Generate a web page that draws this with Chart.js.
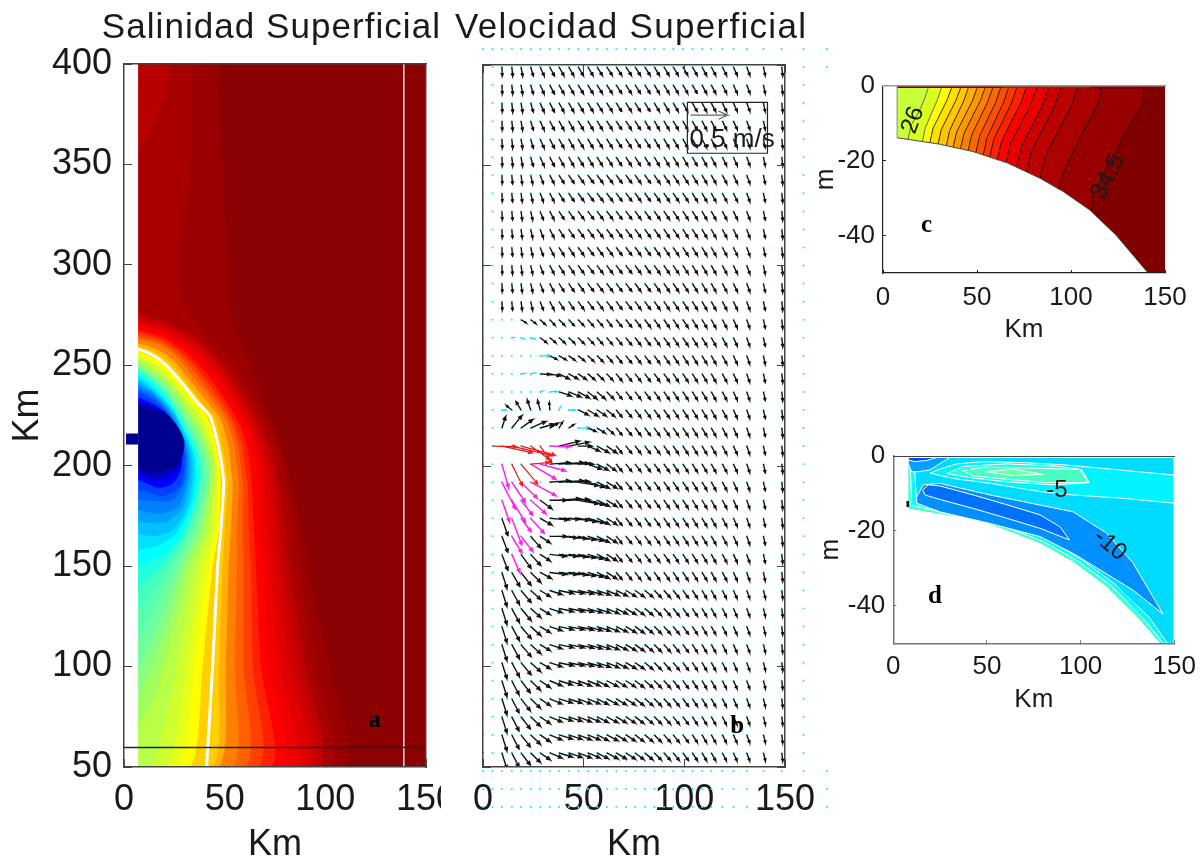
<!DOCTYPE html>
<html><head><meta charset="utf-8">
<script src="https://cdn.jsdelivr.net/npm/chart.js@4"></script>
<style>
html,body{margin:0;background:#fff;width:1203px;height:858px;overflow:hidden}
canvas{position:absolute;display:block;filter:blur(0.35px)}
</style></head><body>
<canvas id="a" style="left:0;top:0" width="441" height="858"></canvas>
<canvas id="b" style="left:455px;top:0" width="385" height="858"></canvas>
<canvas id="c" style="left:810px;top:60px" width="393" height="290"></canvas>
<canvas id="d" style="left:815px;top:430px" width="388" height="290"></canvas>
<script>
const n = null;
/* ---------- panel a: surface salinity, contour outlines in (km, km) ---------- */
const salColors = ['#8b0000','#9a0000','#a80000','#b80000','#c00000','#d00000','#e00000','#f00000','#ff0000','#ff2000','#ff4000','#ff6000','#ff8000','#ffb000','#ffd000','#ffff00','#e8ff18','#d0ff30','#b8ff48','#a0ff60','#88ff80','#70ffa0','#58ffb0','#40ffc0','#20ffe0','#00ffff','#00e0ff','#00c0ff','#00a0ff','#0080ff','#0060ff','#0040ff','#0000ff','#0000c8','#000090'];
const salX = [
 [7,150,150,7],
 [46,49,51,54,63,69,76,82,88,91,102,109],
 [34,33,27,30,40,52,60,67,73,78,81,84,87,95,102],
 [7,15,22,7],
 [7,22,37,48,56,63,69,74,77,80,82,90,97],
 [7,22,35.5,46,54,61,67,71.5,74.5,77,79,86,93.5],
 [7,22,34,44,52,59,65,69,72,74,76,82,90],
 [7,21,32,41.5,49.5,56.5,62.5,66.5,69,70.5,72.5,77,84.5],
 [7,20,30,39,47,54,60,64,66,67,69,72,79],
 [7,19,28,36.5,44.5,52,57.5,61.5,63,64,65.5,68,73],
 [7,18,26,34,42,50,55,59,60,61.5,62,63,64,67],
 [7,17,24.5,31.5,39.5,47.5,53,57,58,59,59,59.5,59.5,60.5],
 [7,16,23,29,37,45,51,55,56,57,56,56,55,54],
 [7,14,20,26,34,42,48,52,53,54,53,52,50.5,47],
 [7,12,18,23,31,39,45,49,50.5,51.5,50,49,47,44],
 [7,16,21,29,37,42,46,47.5,48,47,44,39,33],
 [7,15.5,20.5,28.5,36,41,45,46.7,47,45.5,41.5,35,27.5],
 [7,15,20,28,35,40,44,46,46,44,39,31,22],
 [7,15,20,27.5,34,39,43,45,44.5,42,36,27.5,22,14],
 [7,15,20,27,33,38,42,44,43,40,33,24,15,7],
 [7,14.5,20,26.5,32,37,41,43,42,38,30.5,21.5,14,7],
 [7,14,20,26,31,36,40,42,41,36,28,19,7],
 [7,14,20,25.5,30.5,35,38.5,40.5,39,34,25,16.5,7],
 [7,14,20,25,30,34,37,39,37,32,22,14,7],
 [7,14,20,25,29.5,33.5,36.5,38,36,30,21,13,7],
 [7,14,20,25,29,33,36,37,35,28,20,12,7],
 [7,14,20,25,29,32.5,35,35.5,33,26,18,7],
 [7,14,20,25,29,32,34,34,31,24,16,7],
 [7,14,20,25,28.5,31.5,33,32.5,29,21,7],
 [7,14,20,25,28,31,32,31,27,18,7],
 [7,14,20,25,28,30.5,31,29.5,23.5,7],
 [7,14,20,25,28,30,30,28,20,7],
 [7,14,20,25,28,29,28,24,17,7],
 [7,14.5,21,26,29,29,26.5,21,14.5,7],
 [7,15,22,27,30,29,25,19,12,7]
];
const salY = [
 [400,400,50,50],
 [400,350,300,270,250,233,215,195,170,150,100,50],
 [400,350,300,280,266,254,241,230,218,205,190,170,150,100,50],
 [357,370,400,400],
 [276,271,263,252,241,230,218,205,190,170,150,100,50],
 [274,269.5,262,252,241,230,218,206,192,172,150,100,50],
 [272,268,261,252,241,230,218,207,195,175,150,100,50],
 [270.5,266.5,260,251.5,241,230,219,207,195,175,150,100,50],
 [269,265,259,251,241,230,220,207,195,175,150,100,50],
 [267.5,264,258.5,251,241,230,220.5,208,197,180,150,100,50],
 [266,263,258,251,241,230,221,209,200,190,167,150,100,50],
 [264.5,262,257.5,251,241,230.5,221.5,209,200,190.5,167,150,100,50],
 [263,261,257,251,241,231,222,209,200,191,167,150,100,50],
 [261,259,256,251,241,231,223,209,200,191,167,150,100,50],
 [259.5,258,255,251,241.5,231,224,209,200,191,167,150,100,50],
 [257,253,249,240,230,223,209,200,191,167,150,100,50],
 [256,251.5,247.5,238.5,229,221.5,208.5,199.5,190.5,167,150,100,50],
 [255,250,246,237,228,220,208,199,190,167,150,100,50],
 [253.5,248.5,244.5,236,227,219,208,199,189,167,150,107,80,50],
 [252,247,243,235,226,218,208,199,188,167,150,115,85,70],
 [251,246,241.5,233.5,225,217,207.5,198,187,167,150,120,100,84],
 [250,245,240,232,224,216,207,197,186,167,150,125,98],
 [249,244,238.5,231,223,215,206.5,197,185,167,150,131,113],
 [248,243,237,230,222,214,206,197,184,167,150,138,128],
 [247,242,236,229,221,213.5,205.5,196,183,166,153,145,139],
 [246,241,235,228,220,213,205,195,182,165,156,152,150],
 [244.5,239.5,233.5,227,219,212,204,194,180,166.5,160.5,158],
 [243,238,232,226,218,211,203,193,178,168,165,166],
 [241.5,237,231,224.5,217,210,202,192,179,172,172],
 [240,236,230,223,216,209,201,191,180,176,178],
 [238.5,234.5,229,222,215,208,200,190.5,182.5,183],
 [237,233,228,221,214,207,199,190,185,188],
 [234,231,227,220,213,206,197,191,189,193],
 [232,229.5,226,219.5,212.5,205.5,198,194,192.5,196],
 [230,228,225,219,212,205,199,197,196,199]
];
const frontX = [7,10,16,21,29,37,43,47,48.6,49.5,48,46.5,44,41];
const frontY = [258,257,254,250,241,231,224,209,200,191,167,150,100,50];
const shoreMaskX = [0.4,7,7,0.4], shoreMaskY = [400,400,50,50];
const sectionLineX = [0,150], sectionLineY = [59.7,59.7];
const transectX = [139,139], transectY = [50,400];
const riverX = [1,7,7,1], riverY = [216,216,210.6,210.6];

/* ---------- panel b: surface velocity grid (km) and vectors (km per arrow) ---------- */
const dotCols = [0,4.7,9.4,14.3,18.9,23.7,28.4,33.2,37.8,42.6,47.3,52.1,56.7,61.5,66.2,71,75.6,80.4,85.1,89.9,94.5,99.3,104,108.8,113.4,118.9,124.4,131,139.3,148.4,159.2];
const dotColsFar = [170.8];
const dotRows = [408,399,390,381,372,363,354,345,336,327,318,309,300,291,282,273,264,255,246,237,228,219,210,201,192,183,174,165,156,147,138,129,120,111,102,93,84,75,66,57,48,39,30];
const farDotRows = [408,399,48,39,30];
const arrowCols = [9.4,14.3,18.9,23.7,28.4,33.2,37.8,42.6,47.3,52.1,56.7,61.5,66.2,71,75.6,80.4,85.1,89.9,94.5,99.3,104,108.8,113.4,118.9,124.4,131,139.3,148.4];
const uUpA = [0.2,0.5,0.8,1.3,2,2.3,2.4,2.5,2.6,2.6,2.6,2.7,2.7,2.7,2.6,2.6,2.5,2.5,2.5,2.4,2.4,2.3,2.2,2.1,1.9,1.6,0.9,0.5];
const vUpA = [-4.5,-4.6,-4.6,-4.5,-4.5,-4.5,-4.4,-4.4,-4.3,-4.3,-4.2,-4.2,-4.2,-4.2,-4.2,-4.2,-4.2,-4.2,-4.2,-4.2,-4.2,-4.3,-4.2,-4.2,-4.2,-4.2,-4.3,-4.5];
const uUpB = [0.2,0.4,0.6,1,1.6,2.1,2.5,2.7,2.8,2.9,2.9,2.9,2.9,2.9,2.8,2.8,2.8,2.7,2.7,2.6,2.5,2.4,2.3,2.2,2,1.6,0.9,0.5];
const vUpB = [-4.2,-4.3,-4.3,-4.3,-4.2,-4.1,-4,-4,-3.9,-3.9,-3.9,-3.9,-3.9,-3.9,-3.9,-3.9,-4,-4,-4,-4,-4,-4.1,-4.1,-4.1,-4.1,-4.2,-4.3,-4.5];
const farU = [2.9,2.9,2.8,2.8,2.7,2.7,2.6,2.6,2.5,2.4,2.3,2.2,1.9,1.5,0.9,0.5];
const farV = [-3.6,-3.7,-3.7,-3.8,-3.8,-3.9,-3.9,-4,-4,-4,-4.1,-4.1,-4.1,-4.2,-4.3,-4.5];
const uLowA = [2.5,3.8,5,5,5,6,7,7.5,7.5,7,6.5,6,5.5,5,4.5,4,3.5,3.2,3,2.8,2.5,2.3,2.2,2,1.8,1.5,1,0.5];
const vLowA = [-8,-7,-6,-4.5,-3,-2,-1.5,-1.5,-1.7,-2,-2.2,-2.5,-2.7,-3,-3.2,-3.3,-3.5,-3.6,-3.7,-3.8,-3.8,-3.9,-3.9,-3.9,-4,-4,-4,-4.2];
const uLowB = [2.5,3.6,4.6,4.8,5,6,6.5,6.5,6.5,6,5.5,5.5,5,4.7,4.3,4,3.5,3.2,3,2.8,2.5,2.3,2.2,2,1.8,1.5,1,0.5];
const vLowB = [-8,-7,-6,-4.7,-3.4,-2.5,-2,-2.2,-2.5,-2.5,-2.8,-2.9,-3,-3.1,-3.3,-3.4,-3.5,-3.6,-3.7,-3.8,-3.8,-3.9,-3.9,-3.9,-4,-4,-4,-4.2];
const rowU = [uUpA,uUpA,uUpA,uUpA,uUpA,uUpA,uUpB,uUpB,uUpB,uUpB,uUpB,uUpB,uUpB,uUpB,
 [n,n,2.6,2.6,2.6,2.6,2.8,2.8,2.8,2.8,2.8,2.6,...farU],
 [n,n,n,n,3.3,3,3,3,3,2.9,2.8,2.8,...farU],
 [n,n,n,n,n,3.5,3.5,3.2,3.2,3,3,2.8,...farU],
 [n,n,n,n,5,5,5,4.5,4,3.5,3.2,3,...farU],
 [n,n,n,n,n,n,6,6,5.5,4.5,4,3.5,...farU],
 [n,-2.7,-2.5,-1.7,-1.3,-0.3,n,n,5,5,4.5,4,...farU],
 [1.8,5,5.8,7.5,6.7,4.2,1.7,2.5,n,4,4,3.5,...farU],
 [n,n,n,n,n,n,10,10,6.7,5.8,5.8,5,...farU],
 [n,n,n,n,n,10,12,10,7.5,6.7,5.5,4.5,...farU],
 [n,n,n,n,n,10,12,10,10,8,6,5,...farU],
 [n,n,n,n,5.8,8.3,10.3,10,10,8,6,5,...farU],
 [3,n,n,n,5.8,9.2,10,10,9,8,6,5,...farU],
 [3,n,n,5,5,8.3,9,9,8.5,7.5,6,5,...farU],
 [3,n,5,5,5,8,9,9,8.5,7.5,6,5,...farU],
 [2.5,4,5,5,5.5,8,9,9,8.5,7.5,6,5,...farU],
 uLowA,uLowA,uLowA,uLowA,uLowA,uLowB,uLowB,uLowB,uLowB,uLowB];
const rowV = [vUpA,vUpA,vUpA,vUpA,vUpA,vUpA,vUpB,vUpB,vUpB,vUpB,vUpB,vUpB,vUpB,vUpB,
 [n,n,-1.6,-2,-2.4,-2.8,-2.8,-3,-3,-3.2,-3.2,-3.4,...farV],
 [n,n,n,n,-2.5,-2.5,-2.7,-2.8,-3,-3.1,-3.2,-3.3,...farV],
 [n,n,n,n,n,-1.7,-2,-2.3,-2.5,-2.8,-3,-3.2,...farV],
 [n,n,n,n,-0.3,-1,-2.5,-2.5,-2.8,-3,-3,-3.2,...farV],
 [n,n,n,n,n,n,-2,-2.5,-3,-3.5,-3.5,-3.5,...farV],
 [n,2.2,4.2,5,4.7,3.7,n,n,-2.5,-3,-3,-3.3,...farV],
 [5.7,6.2,4.2,3.3,2,2.5,3,1.7,n,-1.7,-2.5,-3,...farV],
 [n,n,n,n,n,n,2.5,2,0,-2.5,-3.3,-3.5,...farV],
 [n,n,n,n,n,0.8,0.8,0.5,0,-2.5,-3,-3.3,...farV],
 [n,n,n,n,n,0.8,0.8,0.5,-1.7,-2.5,-3,-3,...farV],
 [n,n,n,n,-4.2,0,0.8,0.5,-1.7,-2.3,-3,-3.2,...farV],
 [-8.7,n,n,n,-3.3,-0.8,-0.5,-1,-1.7,-2.3,-3,-3.2,...farV],
 [-8,n,n,-5.8,-3.3,0,-0.8,-1.2,-1.8,-2.3,-3,-3.2,...farV],
 [-8,n,-7,-5.5,-3.3,-1,-1,-1.3,-1.8,-2.3,-3,-3.2,...farV],
 [-8,-7,-6.5,-5,-3,-1,-1,-1.3,-1.8,-2.3,-3,-3.2,...farV],
 vLowA,vLowA,vLowA,vLowA,vLowA,vLowB,vLowB,vLowB,vLowB,vLowB];
const rowY = [399,390,381,372,363,354,345,336,327,318,309,300,291,282,273,264,255,246,237,228,219,210,201,192,183,174,165,156,147,138,129,120,111,102,93,84,75,66,57];
const redX = [4.7,9.4,14.3,18.9,23.7,28.4,23.7,14.3,18.9];
const redY = [210,210,210,210,210,210,201,201,201];
const redU = [12,15,20,17,9.5,5.8,9.2,5.3,8.3];
const redV = [-0.3,-3.3,-4.7,-4.5,-6.7,-8.3,0.8,-10.8,-10];
const magX = [33.2,23.7,28.4,9.4,9.4,14.3,18.9,23.7,9.4,14.3,18.9,23.7,14.3,18.9,23.7,14.3,18.9,14.3];
const magY = [210,201,201,201,192,192,192,192,183,183,183,183,174,174,174,165,165,156];
const magU = [10,12.5,12.5,3.3,6.7,6.7,8,12.5,3.8,6.7,5.8,7.5,5,5,6.7,5,5.8,4];
const magV = [-0.3,-7.5,-3.3,-11.7,-13.3,-10,-8,-6.7,-10.8,-10.8,-7.5,-6.7,-13.3,-6.7,-7.5,-8.3,-7.5,-9];
const cyanX = [14.3,18.9,23.7,28.4,18.9,23.7,28.4,33.2,9.4,37.8,42.6,47.3];
const cyanY = [264,264,264,255,246,246,237,237,228,228,228,219];
const cyanU = [1,1.5,2,5,2,2,1.2,3.5,2,0.6,3.3,5.8];
const cyanV = [0.2,-0.5,-0.5,0,0.3,0.5,0.5,0.3,0,1.5,0,0];
const keyBoxX = [101.5,141.3,141.3,101.5,101.5], keyBoxY = [381.4,381.4,356,356,381.4];
const keyArrowX = [103], keyArrowY = [375], keyArrowU = [18.5], keyArrowV = [0];

/* ---------- panel c: salinity section ---------- */
const secColors = ['#980000','#aa0000','#bb0000','#cc0000','#e80000','#ff0000','#ff2000','#ff3800','#ff5000','#ff6800','#ff8000','#ff9800','#ffb000','#ffc800','#ffe000','#ffff00','#d8ff20','#c8ff38'];
const secX = [
 [138.5,138.5,128.8,117.2,111,111],
 [116,114.6,104.8,95,93.2],
 [103.4,99.4,86.5,83.5],
 [94.5,90.9,79.1,76.4],
 [88,84.6,73.6,71],
 [81.7,78.4,67.8,65.4],
 [76,73,63.1,60.8],
 [71,68.2,58.9,56.8],
 [66.6,64,55.3,53.3],
 [62.5,59.9,51.4,49.4],
 [58.3,55.7,47.3,45.3],
 [54.2,51.6,43.2,41.2],
 [50,47.5,39.2,37.3],
 [45.3,43,35.4,33.7],
 [41.2,38.8,31.1,29.3],
 [36.4,34.1,26.6,24.9],
 [31,29,22.5,21],
 [24,22.2,18.7,15,13.3]
];
const secY = [
 [-0.7,-4.7,-12.7,-23.4,-30,-33.7],
 [-0.7,-4.7,-13.6,-24.3,-27.7],
 [-0.7,-6.2,-18.5,-24.7],
 [-0.7,-5.8,-17.3,-23],
 [-0.7,-5.4,-16.3,-21.7],
 [-0.7,-5.1,-15.4,-20.5],
 [-0.7,-4.9,-14.8,-19.7],
 [-0.7,-4.8,-14.3,-19],
 [-0.7,-4.6,-13.9,-18.5],
 [-0.7,-4.5,-13.4,-17.8],
 [-0.7,-4.3,-13,-17.3],
 [-0.7,-4.2,-12.6,-16.8],
 [-0.7,-4.1,-12.3,-16.4],
 [-0.7,-4,-12,-16],
 [-0.7,-3.9,-11.6,-15.5],
 [-0.7,-3.8,-11.4,-15.2],
 [-0.7,-3.7,-11.2,-14.9],
 [-0.7,-3.4,-7.4,-10.5,-14.3]
];
const secBaseColor = '#800000';
const shelfX = [7.5,30,48,66,83.5,96,110,124,141];
const shelfY = [-13.9,-15.6,-17.6,-20.6,-24.7,-28.3,-33.2,-39.9,-50];
const stripX = [63,110], stripY = [-0.35,-0.35];
const stripX2 = [110,138], stripY2 = [-0.6,-0.6];

/* ---------- panel d: velocity section ---------- */
const velColors = ['#48ffd0','#00ffff','#00dcff','#00f4ff','#28ffd8','#48ffc0','#70ffa8','#0090ff','#0070ff','#00a0ff','#0050f0'];
const velX = [
 [8,150,150,142.3,131.7,113.9,96,78.3,60.5,42.7,24.9,8],
 [8.9,150,150,144.1,134.3,116,98.2,80.4,61.4,42.7,24.9,9.8,8.9],
 [11,150,150,146.3,137,117.8,100.5,82.2,63.2,44.5,24.9,12.5,11],
 [19.6,24.9,33.8,48,71.2,92.5,150,150,122.8,96,78.3,51.6,32,19.6],
 [28.5,37.4,60.5,87.2,100.5,104.6,85.4,60.5,42.7,28.5],
 [37,48,78.3,99.6,104,81.9,60.5,42.7,37],
 [48.9,64.1,80,64.1,48.9],
 [12.5,16,24.9,51.6,78.3,96,113.9,128,144,128,112,96,78.3,51.6,24.9,12.5,12.5],
 [15.7,18.7,24.9,42.7,60.5,78.3,89,94,78.3,60.5,42.7,24.9,16.9,15.7],
 [8,30.2,24.9,19.6,13.3,9.8,8,8],
 [8,23.1,17.8,11.6,8.3,8]
];
const velY = [
 [0,0,-50,-50,-43.8,-34.9,-28.2,-23.3,-19.8,-16.6,-15.5,-14],
 [-0.4,-0.4,-50,-50,-43.8,-34.4,-27.9,-22.9,-19.2,-16,-14.9,-13.1,-0.4],
 [-0.4,-0.4,-50,-50,-43.3,-34,-27.6,-22.2,-18.4,-15.3,-14.1,-12.6,-0.4],
 [-4.6,-3.5,-2.1,-1.5,-1.8,-2.4,-5.1,-12.6,-11.3,-10.4,-9.5,-7.3,-6,-4.6],
 [-4.7,-2.8,-2.1,-2.7,-3.6,-7.1,-7.7,-6.9,-5.9,-4.7],
 [-3.9,-3,-3.3,-3.6,-7.1,-7.1,-6.2,-5.3,-3.9],
 [-4.2,-3.5,-4.9,-5.2,-4.2],
 [-10.9,-7.7,-7.3,-10.4,-13.1,-14.9,-20.6,-28.6,-42.2,-35.8,-30.9,-26,-21.5,-18,-14.9,-12.6,-10.9],
 [-9.1,-7.7,-8,-10.4,-13,-15.7,-18.9,-22.4,-19.3,-16.6,-14,-11.6,-10.4,-9.1],
 [-0.4,-0.4,-2,-3.7,-4.2,-4.2,-2,-0.4],
 [-0.4,-0.4,-1.2,-1.5,-1.1,-0.4]
];
const glitchX = [7.7,7.7], glitchY = [-12,-13.6];

/* ---------- tick values and labels ---------- */
const kmTicks = [0,50,100,150];
const alongTicks = [50,100,150,200,250,300,350,400];
const depthTicks = [0,-20,-40];
const kmTitle = 'Km', depthTitle = 'm';
const titleA = 'Salinidad Superficial', titleB = 'Velocidad Superficial', keyLabel = '0.5 m/s';

/* ---------- helpers ---------- */
const FAM = '"Liberation Sans", Arial, sans-serif';
const INK = '#1a1a1a';
const SHARP = 1e-6;
const zip = (xs, ys) => xs.map((x, i) => ({x, y: ys[i]}));
function scale(o) {
  return {
    type: 'linear', position: o.pos, min: o.min, max: o.max,
    afterBuildTicks: s => { s.ticks = o.ticks.map(v => ({value: v})); },
    afterFit: s => {
      if (s.isHorizontal()) s.height = o.size; else s.width = o.size;
      s.paddingLeft = s.paddingRight = s.paddingTop = s.paddingBottom = 0;
    },
    ticks: {display: !!o.labels, autoSkip: false, maxRotation: 0, minRotation: 0, color: INK, padding: o.pad || 0,
      font: {family: FAM, size: o.fs || 12}, callback: v => String(v)},
    grid: {drawOnChartArea: false, drawTicks: true, tickLength: -(o.tick || 0), tickColor: o.color || '#444', tickWidth: 1, z: o.gz === undefined ? -1 : o.gz},
    border: {display: o.border !== false, color: o.color || '#444', width: o.bw || 1.5, z: 1},
    title: {display: !!o.title, text: o.title, color: INK, font: {family: FAM, size: o.tfs || 12, lineHeight: 1.2}, padding: o.tpad || 0}
  };
}
function poly(xs, ys, color, extra) {
  return Object.assign({data: zip(xs, ys), showLine: true, fill: 'shape', backgroundColor: color, borderColor: color,
    borderWidth: 0, pointRadius: 0, tension: 0}, extra || {});
}
function line(xs, ys, color, w, extra) {
  return Object.assign({data: zip(xs, ys), showLine: true, fill: false, borderColor: color, backgroundColor: color,
    borderWidth: w, pointRadius: 0, tension: SHARP}, extra || {});
}
function arrows(xs, ys, us, vs, color, w, head) {
  const pts = [], maxH = head || 2.2;
  xs.forEach((x, i) => {
    const u = us[i], v = vs[i], y = ys[i];
    if (u === null || v === null) return;
    const L = Math.hypot(u, v), h = Math.min(0.36 * L, maxH), a = Math.atan2(v, u), tx = x + u, ty = y + v;
    pts.push({x, y}, {x: tx, y: ty},
      {x: tx - h * Math.cos(a - 0.42), y: ty - h * Math.sin(a - 0.42)}, {x: tx, y: ty},
      {x: tx - h * Math.cos(a + 0.42), y: ty - h * Math.sin(a + 0.42)}, {x: tx, y: null});
  });
  return {data: pts, showLine: true, fill: false, spanGaps: false, borderColor: color, backgroundColor: color,
    borderWidth: w, pointRadius: 0, tension: SHARP};
}
function stack(list) { list.forEach((d, i) => { d.order = list.length - i; }); return list; }
function notes(items) {
  return {id: 'notes', afterDatasetsDraw(chart) {
    const c = chart.ctx;
    items.forEach(t => {
      c.save();
      c.translate(chart.scales.x.getPixelForValue(t.x), chart.scales.y.getPixelForValue(t.y));
      c.rotate((t.rot || 0) * Math.PI / 180);
      c.font = t.font; c.fillStyle = t.color || INK; c.textAlign = 'center'; c.textBaseline = 'middle';
      c.fillText(t.text, 0, 0);
      c.restore();
    });
  }};
}
function make(id, datasets, scales, plugins, extra) {
  const chart = new Chart(document.getElementById(id), {
    type: 'scatter',
    data: {datasets: stack(datasets)},
    plugins: plugins || [],
    options: {responsive: false, animation: false, events: [],
      layout: {padding: extra.padding},
      plugins: {legend: {display: false}, tooltip: {enabled: false},
        title: extra.title || {display: false}},
      scales}
  });
  if (extra.titleSpacing) {
    const block = chart.titleBlock, draw = block.draw.bind(block);
    block.draw = () => {
      chart.ctx.letterSpacing = extra.titleSpacing;
      draw();
      chart.ctx.letterSpacing = '0px';
    };
    chart.draw();
  }
  return chart;
}
const SERIF = 'bold 25px "Liberation Serif", "Times New Roman", serif';

/* ---------- panel a ---------- */
const aSets = salX.map((xs, i) => {
  const ys = salY[i], last = ys[ys.length - 1], first = ys[0];
  return poly([...xs, 7, 7], [...ys, last, first], salColors[i], {tension: i === 0 ? 0 : 0.25});
});
aSets.push(poly(shoreMaskX, shoreMaskY, '#ffffff'));
aSets.push(poly(riverX, riverY, '#00008b'));
aSets.push(line(frontX, frontY, '#ffffff', 3, {tension: 0.25}));
aSets.push(line(transectX, transectY, 'rgba(255,255,255,0.85)', 1.5));
aSets.push(line(sectionLineX, sectionLineY, '#222222', 1.4));
make('a', aSets, {
  x: scale({pos: 'bottom', size: 858 - 767, min: 0, max: 150, ticks: kmTicks, labels: true, fs: 36, pad: 19, tick: 8, title: kmTitle, tfs: 36, tpad: {bottom: -9}}),
  y: scale({pos: 'left', size: 124, min: 50, max: 400, ticks: alongTicks, labels: true, fs: 36, pad: 20, tick: 8, gz: 1, title: kmTitle, tfs: 36, tpad: {top: 6}}),
  x2: scale({pos: 'top', size: 0, min: 0, max: 150, ticks: []}),
  y2: scale({pos: 'right', size: 15, min: 50, max: 400, ticks: []})
}, [notes([{text: 'a', x: 124.4, y: 73.3, font: SERIF, color: '#000'}])], {
  padding: {top: 0, right: 0, bottom: 0, left: 0},
  titleSpacing: '1.05px',
  title: {display: true, text: titleA, align: 'end', color: INK, font: {family: FAM, size: 35, weight: 'normal', lineHeight: 1.2}, padding: {top: 7.5, bottom: 14.5}}
});

/* ---------- panel b ---------- */
const dotPts = [];
const addDot = (x, y) => dotPts.push({x, y}, {x: x + 0.05, y}, {x, y: null});
dotRows.forEach(y => dotCols.forEach(x => addDot(x, y)));
farDotRows.forEach(y => dotColsFar.forEach(x => addDot(x, y)));
const blackX = [], blackY = [], blackU = [], blackV = [];
rowY.forEach((y, r) => arrowCols.forEach((x, c) => {
  blackX.push(x); blackY.push(y); blackU.push(rowU[r][c]); blackV.push(rowV[r][c]);
}));
const bSets = [
  {data: dotPts, showLine: true, fill: false, spanGaps: false, borderColor: '#1cf0f0', borderWidth: 2, borderCapStyle: 'round', pointRadius: 0, tension: SHARP, clip: false},
  arrows(cyanX, cyanY, cyanU, cyanV, '#22e4e8', 1.3),
  arrows(blackX, blackY, blackU, blackV, '#111111', 1.4),
  arrows(magX, magY, magU, magV, '#ff22ee', 1.5),
  arrows(redX, redY, redU, redV, '#f01818', 1.2),
  arrows(keyArrowX, keyArrowY, keyArrowU, keyArrowV, '#666666', 1.2, 5),
  line(keyBoxX, keyBoxY, '#222222', 1.2)
];
make('b', bSets, {
  x: scale({pos: 'bottom', size: 858 - 767, min: 0, max: 150, ticks: kmTicks, labels: true, fs: 36, pad: 19, tick: 8, gz: 1, title: kmTitle, tfs: 36, tpad: {bottom: -9}}),
  y: scale({pos: 'left', size: 28, min: 50, max: 400, ticks: alongTicks, tick: 8, gz: 1}),
  x2: scale({pos: 'top', size: 0, min: 0, max: 150, ticks: kmTicks, tick: 8, gz: 1}),
  y2: scale({pos: 'right', size: 55, min: 50, max: 400, ticks: alongTicks, tick: 8, gz: 1})
}, [notes([{text: 'b', x: 126.2, y: 70, font: SERIF, color: '#000'}, {text: keyLabel, x: 123.7, y: 362.8, font: '26px ' + FAM}])], {
  padding: {top: 0, right: 0, bottom: 0, left: 0},
  titleSpacing: '1.3px',
  title: {display: true, text: titleB, align: 'start', color: INK, font: {family: FAM, size: 35, weight: 'normal', lineHeight: 1.2}, padding: {top: 7.5, bottom: 15.5}}
});

/* ---------- panel c ---------- */
const cSets = [poly([7.5,150,150,7.5], [0,0,-50,-50], secBaseColor)];
secX.forEach((xs, i) => {
  const ys = secY[i];
  cSets.push(poly([...xs, 7.5, 7.5], [...ys, ys[ys.length - 1], ys[0]], secColors[i]));
});
cSets.push(poly([6.5, ...shelfX, 6.5], [-13.9, ...shelfY, -50], '#ffffff'));
secX.forEach((xs, i) => cSets.push(line(xs, secY[i], i > 15 ? '#555555' : '#111111', 0.9)));
cSets.push(line(shelfX, shelfY, '#444444', 1));
cSets.push(line([7.5,7.5], [0,-13.9], '#888888', 1));
cSets.push(line(stripX, stripY, '#804000', 1.5));
cSets.push(line(stripX2, stripY2, '#800000', 1.5));
make('c', cSets, {
  x: scale({pos: 'bottom', size: 290 - 213, min: 0, max: 150, ticks: kmTicks, labels: true, fs: 26, pad: 12, tick: 3, gz: 1, bw: 1.2, color: '#222', title: kmTitle, tfs: 26, tpad: {bottom: 5}}),
  y: scale({pos: 'left', size: 73, min: -50, max: 0, ticks: depthTicks, labels: true, fs: 26, pad: 11, tick: 3, gz: 1, bw: 1.2, color: '#222', title: depthTitle, tfs: 26, tpad: {top: 0}}),
  x2: scale({pos: 'top', size: 0, min: 0, max: 150, ticks: [], color: '#999', bw: 1.5}),
  y2: scale({pos: 'right', size: 0, min: -50, max: 0, ticks: [], border: false})
}, [notes([{text: 'c', x: 23.2, y: -37.2, font: SERIF, color: '#000'},
  {text: '26', x: 16, y: -9.2, rot: -70, font: '24px ' + FAM},
  {text: '34.5', x: 119.7, y: -24.3, rot: -62, font: '24px ' + FAM}])], {
  padding: {top: 25.7, right: 38, bottom: 0, left: 0}
});

/* ---------- panel d ---------- */
const dSets = velX.map((xs, i) => poly([...xs, xs[0]], [...velY[i], velY[i][0]], velColors[i],
  i > 0 ? {borderColor: '#ffffff', borderWidth: 1} : {}));
dSets.push(line(glitchX, glitchY, '#111111', 2.5));
make('d', dSets, {
  x: scale({pos: 'bottom', size: 290 - 213.3, min: 0, max: 150, ticks: kmTicks, labels: true, fs: 26, pad: 11, tick: 3, gz: 1, bw: 1.5, color: '#777', title: kmTitle, tfs: 26, tpad: {bottom: 5}}),
  y: scale({pos: 'left', size: 78.3, min: -50, max: 0, ticks: depthTicks, labels: true, fs: 26, pad: 11, tick: 3, gz: 1, bw: 1.5, color: '#777', title: depthTitle, tfs: 26, tpad: {top: 0}}),
  x2: scale({pos: 'top', size: 0, min: 0, max: 150, ticks: [], color: '#444', bw: 1}),
  y2: scale({pos: 'right', size: 0, min: -50, max: 0, ticks: [], border: false})
}, [notes([{text: 'd', x: 22.3, y: -37.6, font: SERIF, color: '#000'},
  {text: '-5', x: 87.4, y: -9.1, font: '24px ' + FAM},
  {text: '-10', x: 115.6, y: -23.8, rot: 40, font: '24px ' + FAM}])], {
  padding: {top: 26, right: 28.7, bottom: 0, left: 0}
});
</script>
</body></html>
